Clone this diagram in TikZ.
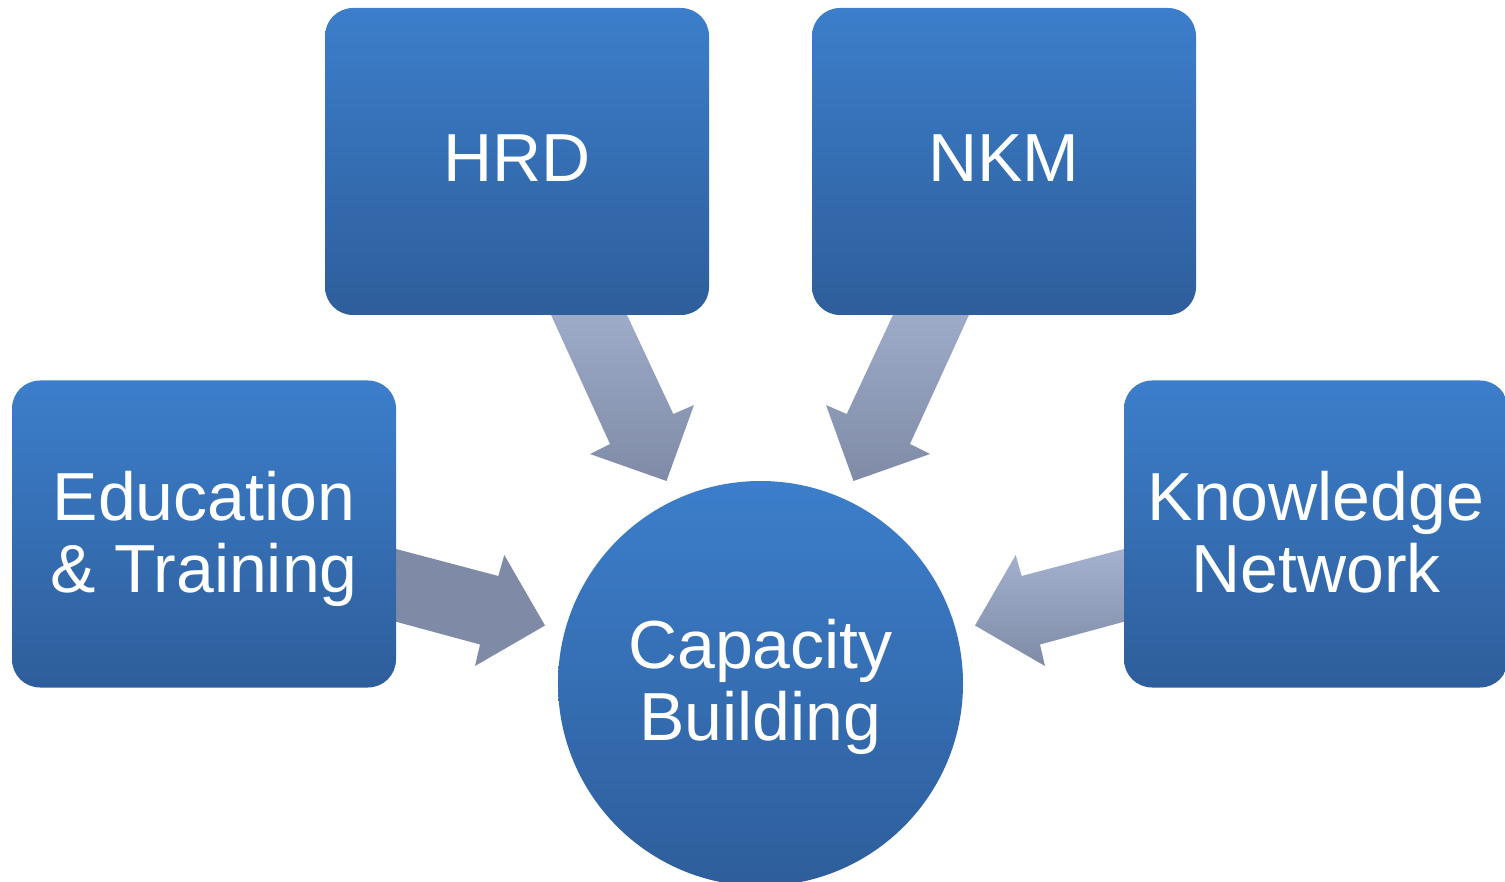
\documentclass[tikz,border=0pt]{standalone}
\usepackage{fontspec}
\setmainfont{Liberation Sans}
\definecolor{boxtop}{RGB}{60,126,203}
\definecolor{boxbot}{RGB}{46,94,155}
\definecolor{arrtop}{RGB}{158,172,202}
\definecolor{arrtopR}{RGB}{164,178,208}
\definecolor{arrbot}{RGB}{127,139,166}
\begin{document}
\begin{tikzpicture}[x=1pt,y=-1pt,
  box/.style={rectangle, rounded corners=28pt, minimum width=384pt, minimum height=307pt,
    inner sep=0pt, top color=boxtop, bottom color=boxbot, draw=none},
  hub/.style={circle, minimum size=405pt, inner sep=0pt, top color=boxtop, bottom color=boxbot, draw=none},
  txt/.style={text=white, font=\fontsize{68}{72}\selectfont, align=center, inner sep=0pt, anchor=base},
  blockarrow/.style={draw=none}
]
\useasboundingbox (0,0) rectangle (1505,882);

% block arrows (drawn beneath the boxes)
\path[blockarrow, top color=arrtop, bottom color=arrbot]
  (548.3,309) -- (610,444) -- (590,454) -- (666.5,481) -- (694,405) -- (673.3,414) -- (624.2,309) -- cycle;
\path[blockarrow, top color=arrtop, bottom color=arrbot]
  (971.7,309) -- (910,444) -- (930,454) -- (853.5,481) -- (826,405) -- (846.7,414) -- (895.8,309) -- cycle;
\path[blockarrow, fill=arrbot]
  (390,547.4) -- (498.3,576) -- (504.3,555) -- (545,625.5) -- (475,666) -- (480,644.5) -- (390,620.1) -- cycle;
\path[blockarrow, top color=arrtopR, bottom color=arrbot]
  (1130,547.4) -- (1021.7,576) -- (1015.7,555) -- (975,625.5) -- (1045,666) -- (1040,644.5) -- (1130,620.1) -- cycle;

% boxes
\node[box] (hrd) at (517,161.5) {};
\node[box] (nkm) at (1004,161.5) {};
\node[box] (edu) at (204,534) {};
\node[box] (kn)  at (1316,534) {};
\node[hub] (cb)  at (760.5,683.5) {};

% texts (multi-line nodes: base anchor is the last line's baseline)
\node[txt] (hrdt) at (517,182) {HRD};
\node[txt] (nkmt) at (1004,182) {NKM};
\node[txt] (edut) at (204,592) {Education\\\& Training};
\node[txt] (knt)  at (1316,592) {Knowledge\\Network};
\node[txt] (cbt)  at (760.5,740) {Capacity\\Building};
\end{tikzpicture}
\end{document}
